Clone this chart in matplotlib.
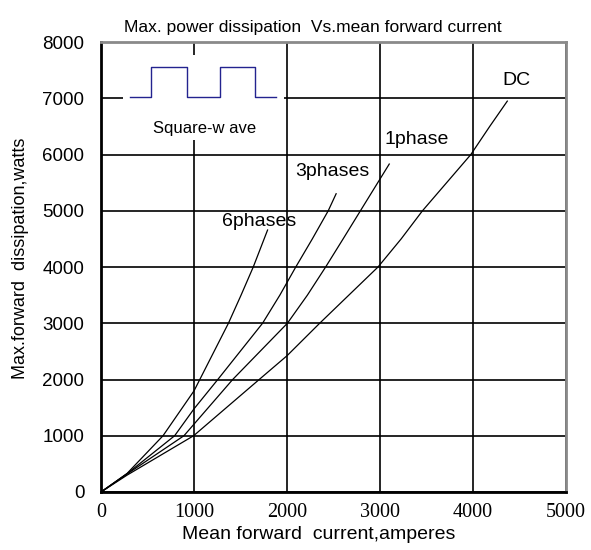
import matplotlib
matplotlib.use("Agg")
import matplotlib.pyplot as plt
from matplotlib.patches import Rectangle

# curves: mean forward current (A) -> max power (W)
dc_current = [0, 280, 995, 1700, 2000, 2350, 2977, 3226, 3455, 3715, 3975, 4178, 4367]
dc_power = [0, 300, 1000, 2000, 2424, 3000, 4000, 4500, 5000, 5500, 6000, 6500, 6950]

ph1_current = [0, 280, 891, 1415, 2003, 2218, 2414, 2602, 2788, 3098]
ph1_power = [0, 320, 1000, 2000, 3000, 3500, 4000, 4500, 5000, 5831]

ph3_current = [0, 280, 791, 1000, 1255, 1736, 1922, 2093, 2271, 2442, 2527]
ph3_power = [0, 325, 1000, 1480, 2000, 3000, 3500, 4000, 4500, 5000, 5303]

ph6_current = [0, 280, 666, 1000, 1369, 1505, 1636, 1790]
ph6_power = [0, 330, 1000, 1800, 3000, 3500, 4000, 4658]

labels = ["DC", "1phase", "3phases", "6phases"]
label_x = [4463, 3388, 2490, 1700]
label_y = [7324, 6270, 5694, 4818]

# square wave sketch in the corner
wave_x = [310, 542, 542, 927, 927, 1280, 1280, 1658, 1658, 1882]
wave_y = [7020, 7020, 7550, 7550, 7020, 7020, 7550, 7550, 7020, 7020]

x_ticks = [0, 1000, 2000, 3000, 4000, 5000]
y_ticks = [0, 1000, 2000, 3000, 4000, 5000, 6000, 7000, 8000]

sans = ["Liberation Sans", "DejaVu Sans"]
narrow = ["Liberation Sans Narrow", "Liberation Sans", "DejaVu Sans"]

fig = plt.figure(figsize=(5.91, 5.5), dpi=100)
ax = fig.add_axes([0.171, 0.1055, 0.787, 0.818])

for xs, ys in [(dc_current, dc_power), (ph1_current, ph1_power),
               (ph3_current, ph3_power), (ph6_current, ph6_power)]:
    ax.plot(xs, ys, color="black", lw=0.9, zorder=3)

for name, lx, ly in zip(labels, label_x, label_y):
    ax.text(lx, ly, name, ha="center", va="center", fontsize=14,
            family=sans, zorder=4)

ax.set_xlim(0, 5000)
ax.set_ylim(0, 8000)
ax.set_xticks(x_ticks)
ax.set_yticks(y_ticks)
ax.grid(True, color="black", lw=1.2)
ax.set_axisbelow(True)

# white patch hiding the grid behind the wave sketch
ax.add_patch(Rectangle((240, 6260), 1730, 1510, facecolor="white",
                       edgecolor="none", zorder=1))
ax.plot(wave_x, wave_y, color="#23238f", lw=1.0, zorder=2)
ax.text(1110, 6470, "Square-w ave", ha="center", va="center",
        fontsize=12, family=sans, zorder=4)

ax.tick_params(length=0)
ax.tick_params(axis="y", pad=12)
ax.tick_params(axis="x", pad=8)
for t in ax.get_xticklabels():
    t.set_fontfamily(["Liberation Serif", "DejaVu Serif"])
    t.set_fontsize(14.5)
for t in ax.get_yticklabels():
    t.set_fontfamily(sans)
    t.set_fontsize(13.5)

for side in ["left", "bottom"]:
    ax.spines[side].set_linewidth(2)
    ax.spines[side].set_color("black")
for side in ["top", "right"]:
    ax.spines[side].set_linewidth(2)
    ax.spines[side].set_color("#8a8a8a")

ax.set_xlabel("Mean forward  current,amperes", fontsize=14, family=sans,
              labelpad=2)
ax.xaxis.set_label_coords(0.467, -0.075)
ax.set_ylabel("Max.forward  dissipation,watts", fontsize=13, family=sans)
ax.yaxis.set_label_coords(-0.155, 0.52)
ax.set_title("Max. power dissipation  Vs.mean forward current", fontsize=12.5,
             family=narrow, x=0.456, pad=7)

fig.savefig("out.png", dpi=100)
